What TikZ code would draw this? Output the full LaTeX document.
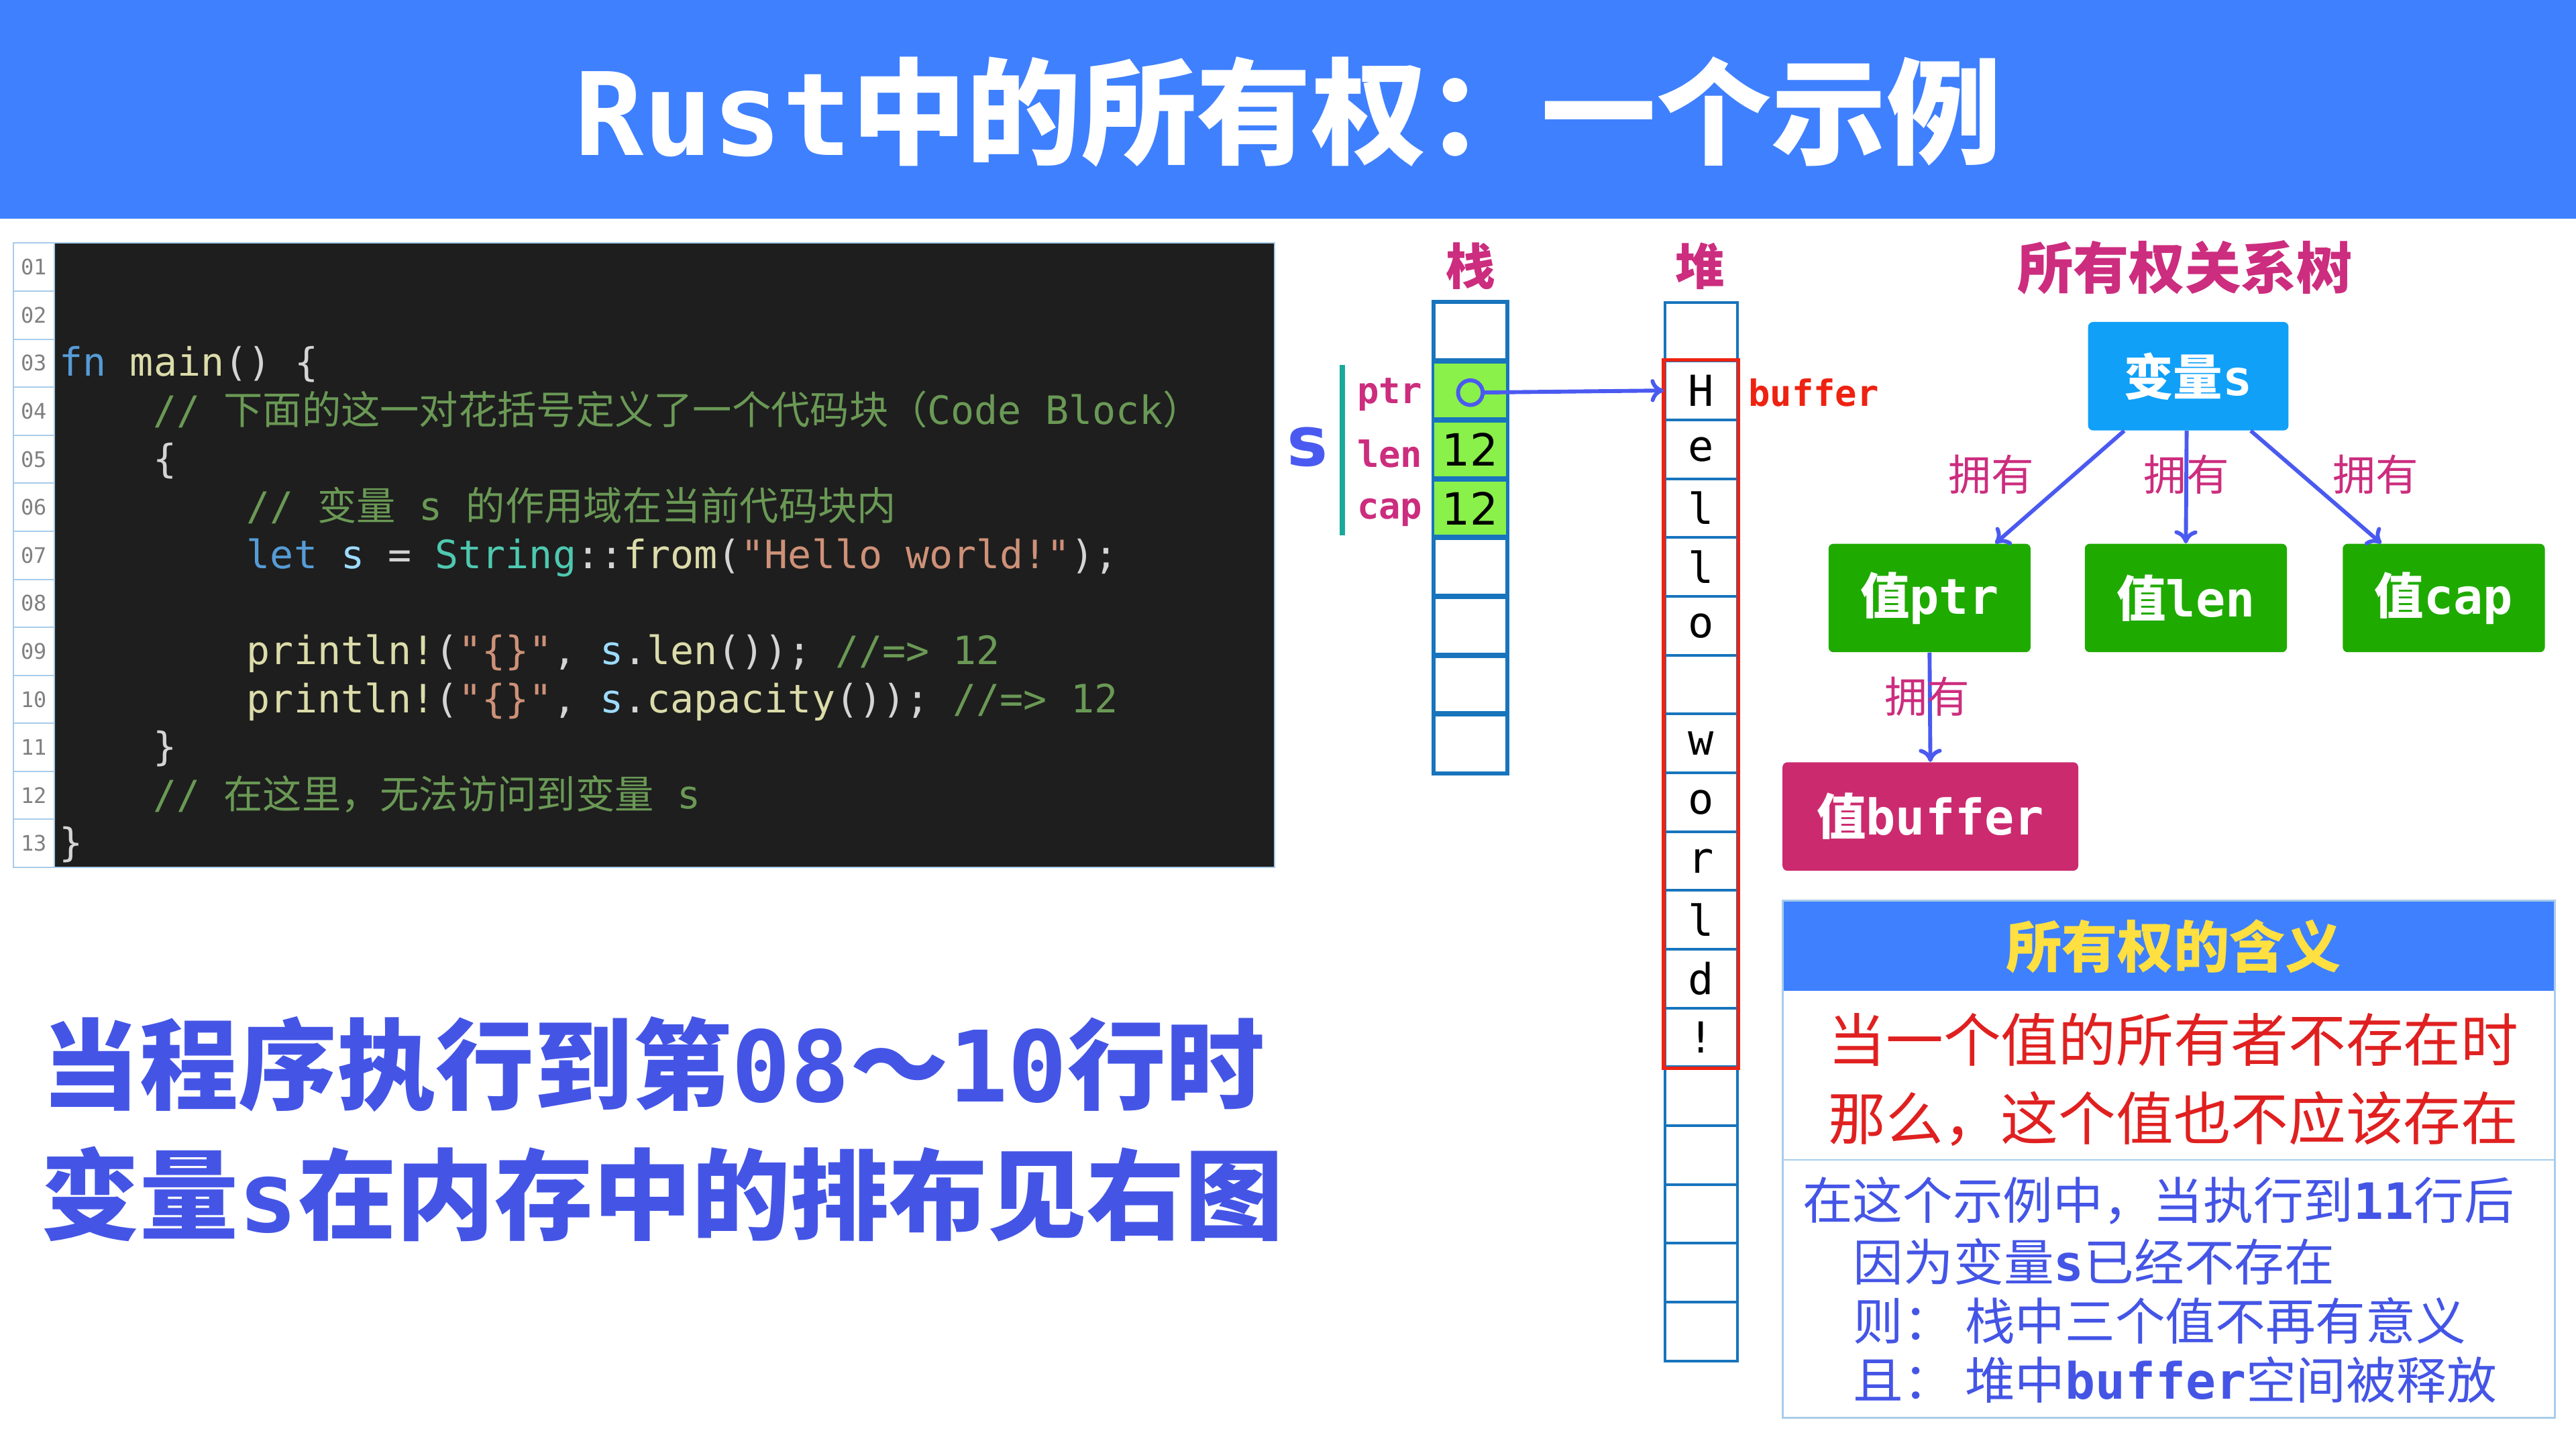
\documentclass[tikz,border=0pt]{standalone}
\usepackage{fontspec}
\usetikzlibrary{arrows.meta}
\newfontfamily\cjk{Noto Sans CJK SC}
\newfontfamily\mono{DejaVu Sans Mono}
\newfontfamily\dsans{DejaVu Sans}
\newcommand{\C}[1]{{\cjk #1}}
\newcommand{\CB}[1]{{\cjk\bfseries #1}}
\definecolor{titlebg}{HTML}{3F80FF}
\definecolor{codebg}{HTML}{1E1E1E}
\definecolor{kw}{HTML}{569CD6}
\definecolor{fnc}{HTML}{DCDCAA}
\definecolor{cm}{HTML}{6A9955}
\definecolor{var}{HTML}{9CDCFE}
\definecolor{ty}{HTML}{4EC9B0}
\definecolor{str}{HTML}{CE9178}
\definecolor{txt}{HTML}{D4D4D4}
\definecolor{lnb}{HTML}{A8CCEA}
\definecolor{bigblue}{HTML}{4455E6}
\definecolor{mag}{HTML}{CC2D7E}
\definecolor{cellb}{HTML}{1874BC}
\definecolor{cellg}{HTML}{8AF04A}
\definecolor{heapred}{HTML}{EE2211}
\definecolor{arr}{HTML}{4A5AF0}
\definecolor{teal}{HTML}{1AA99B}
\definecolor{nodeblue}{HTML}{10A0F8}
\definecolor{nodegreen}{HTML}{1FAA00}
\definecolor{nodepink}{HTML}{CC2A6E}
\definecolor{yel}{HTML}{FFE040}
\definecolor{redtxt}{HTML}{E02020}
\begin{document}
\begin{tikzpicture}[x={(1pt,0)},y={(0,-1pt)},
  code/.style={anchor=base west,inner sep=0,font=\mono\fontsize{23.8}{23.8}\selectfont},
  lnum/.style={draw=lnb,line width=0.8pt,minimum width=25pt,minimum height=29.2pt,inner sep=0,
     font=\mono\fontsize{13}{13}\selectfont,text=gray},
  cell/.style={draw=cellb,line width=1.6pt,minimum width=44pt,minimum height=35.8pt,inner sep=0,
     font=\mono\fontsize{26}{26}\selectfont},
  lab/.style={anchor=east,inner sep=0,text=mag,font=\mono\bfseries\fontsize{22}{22}\selectfont},
  tnode/.style={rounded corners=3pt,minimum height=66pt,inner sep=0,text=white,
     font=\mono\bfseries\fontsize{30}{30}\selectfont},
  own/.style={text=mag,font=\cjk\fontsize{26}{26}\selectfont,inner sep=1pt},
  edge/.style={draw=arr,line width=2.4pt,-{To[length=8pt,width=14pt]}},
  info/.style={anchor=west,inner sep=0,text=bigblue,font=\cjk\fontsize{30.5}{30.5}\selectfont}]
\useasboundingbox (0,0) rectangle (1568,882);
\fill[white] (0,0) rectangle (1568,882);
% title
\fill[titlebg] (0,0) rectangle (1568,133);
\node[text=white,font=\fontsize{70}{70}\selectfont] (title) at (784,68)
  {{\mono\bfseries Rust}\CB{中的所有权：一个示例}};
% code block
\fill[codebg] (33,148) rectangle (776,528);
\draw[lnb,line width=0.8pt] (8,148) rectangle (776,528);
\foreach \i/\t in {1/01,2/02,3/03,4/04,5/05,6/06,7/07,8/08,9/09,10/10,11/11,12/12,13/13}{
  \node[lnum] (ln\i) at (20.5,{148+29.23*(\i-0.5)}) {\t};
}
\def\bl#1{148+29.23*(#1-0.5)+8}
\node[code] (c3) at (36,{\bl{3}}) {\textcolor{kw}{fn} \textcolor{fnc}{main}\textcolor{txt}{() \{}};
\node[code] (c4) at (93,{\bl{4}}) {\textcolor{cm}{// \C{下面的这一对花括号定义了一个代码块（}Code Block\C{）}}};
\node[code] (c5) at (93,{\bl{5}}) {\textcolor{txt}{\{}};
\node[code] (c6) at (150,{\bl{6}}) {\textcolor{cm}{// \C{变量} s \C{的作用域在当前代码块内}}};
\node[code] (c7) at (150,{\bl{7}}) {\textcolor{kw}{let} \textcolor{var}{s} \textcolor{txt}{=} \textcolor{ty}{String}\textcolor{txt}{::}\textcolor{fnc}{from}\textcolor{txt}{(}\textcolor{str}{"Hello world!"}\textcolor{txt}{);}};
\node[code] (c9) at (150,{\bl{9}}) {\textcolor{fnc}{println!}\textcolor{txt}{(}\textcolor{str}{"\{\}"}\textcolor{txt}{, }\textcolor{var}{s}\textcolor{txt}{.}\textcolor{fnc}{len}\textcolor{txt}{());} \textcolor{cm}{//=> 12}};
\node[code] (c10) at (150,{\bl{10}}) {\textcolor{fnc}{println!}\textcolor{txt}{(}\textcolor{str}{"\{\}"}\textcolor{txt}{, }\textcolor{var}{s}\textcolor{txt}{.}\textcolor{fnc}{capacity}\textcolor{txt}{());} \textcolor{cm}{//=> 12}};
\node[code] (c11) at (93,{\bl{11}}) {\textcolor{txt}{\}}};
\node[code] (c12) at (93,{\bl{12}}) {\textcolor{cm}{// \C{在这里，无法访问到变量} s}};
\node[code] (c13) at (36,{\bl{13}}) {\textcolor{txt}{\}}};
% big text
\node[anchor=west,inner sep=0,text=bigblue,font=\fontsize{60}{60}\selectfont] (big1) at (25,648)
  {\CB{当程序执行到第}{\mono\bfseries 08}\CB{～}{\mono\bfseries 10}\CB{行时}};
\node[anchor=west,inner sep=0,text=bigblue,font=\fontsize{60}{60}\selectfont] (big2) at (25,727)
  {\CB{变量}{\mono\bfseries s}\CB{在内存中的排布见右图}};
% stack
\node[text=mag,font=\cjk\bfseries\fontsize{30}{30}\selectfont] (stk) at (895,162) {栈};
\node[text=mag,font=\cjk\bfseries\fontsize{30}{30}\selectfont] (hp) at (1035,162) {堆};
\foreach \i in {1,...,8}{
  \node[cell] (s\i) at (895,{184+35.8*(\i-0.5)}) {};
}
\foreach \i in {2,3,4}{ \fill[cellg] ([shift={(1pt,-1pt)}]s\i.north west) rectangle ([shift={(-1pt,1pt)}]s\i.south east); }
\foreach \i in {1,...,8}{ \draw[cellb,line width=1.6pt] (s\i.north west) rectangle (s\i.south east); }
\node[font=\dsans\fontsize{27}{27}\selectfont] at (s3) {12};
\node[font=\dsans\fontsize{27}{27}\selectfont] at (s4) {12};
\node[lab] (lptr) at (866,240) {ptr};
\node[lab] (llen) at (866,276) {len};
\node[lab] (lcap) at (866,312) {cap};
\node[text=arr,font=\dsans\bfseries\fontsize{42}{42}\selectfont] (svar) at (796,272) {s};
\coordinate (tt) at (817,222); \coordinate (tb) at (817,326);
\draw[teal,line width=3pt] (tt) -- (tb);
% heap
\foreach \i/\c in {1/,2/H,3/e,4/l,5/l,6/o,7/,8/w,9/o,10/r,11/l,12/d,13/!,14/,15/,16/,17/,18/}{
  \node[cell] (h\i) at (1035.5,{184+35.8*(\i-0.5)}) {\c};
}
\draw[heapred,line width=2.2pt] (h2.north west) rectangle (h13.south east);
\node[anchor=west,inner sep=0,text=heapred,font=\mono\bfseries\fontsize{22}{22}\selectfont] (buf) at (1064,239) {buffer};
\node[draw=arr,line width=2.4pt,circle,minimum size=15pt,inner sep=0] (pc) at (895,239) {};
\draw[edge] (pc) -- (h2.west);
% tree
\node[text=mag,font=\cjk\bfseries\fontsize{34}{34}\selectfont] (tree) at (1330,163) {所有权关系树};
\node[tnode,fill=nodeblue,minimum width=122pt] (vs) at (1332,229) {\CB{变量}s};
\node[tnode,fill=nodegreen,minimum width=123pt] (vp) at (1174.5,364) {\CB{值}ptr};
\node[tnode,fill=nodegreen,minimum width=123pt] (vl) at (1330.5,364) {\CB{值}len};
\node[tnode,fill=nodegreen,minimum width=123pt] (vc) at (1487.5,364) {\CB{值}cap};
\node[tnode,fill=nodepink,minimum width=180pt] (vb) at (1175,497) {\CB{值}buffer};
\draw[edge] ([xshift=-39pt]vs.south) -- ([xshift=40pt]vp.north);
\draw[edge] ([xshift=-1pt]vs.south) -- (vl.north);
\draw[edge] ([xshift=38pt]vs.south) -- ([xshift=-38pt]vc.north);
\draw[edge] (vp.south) -- (vb.north);
\node[own] (o1) at (1212,289) {拥有};
\node[own] (o2) at (1331,289) {拥有};
\node[own] (o3) at (1446,289) {拥有};
\node[own] (o4) at (1173,424) {拥有};
% meaning box
\fill[titlebg] (1085,548) rectangle (1555,603);
\draw[lnb,line width=1.2pt] (1085,548) rectangle (1555,863);
\draw[lnb,line width=1.2pt] (1085,706) -- (1555,706);
\node[text=yel,font=\cjk\bfseries\fontsize{34}{34}\selectfont] (mh) at (1323,576) {所有权的含义};
\node[text=redtxt,font=\cjk\fontsize{35}{35}\selectfont] (m1) at (1323,633) {当一个值的所有者不存在时};
\node[text=redtxt,font=\cjk\fontsize{35}{35}\selectfont] (m2) at (1323,681) {那么，这个值也不应该存在};
\node[info] (i1) at (1097,731) {在这个示例中，当执行到{\mono\bfseries 11}行后};
\node[info] (i2) at (1128,768) {因为变量{\mono\bfseries s}已经不存在};
\node[info] (i3) at (1128,804) {则： 栈中三个值不再有意义};
\node[info] (i4) at (1128,840) {且： 堆中{\mono\bfseries buffer}空间被释放};
\end{tikzpicture}
\end{document}
